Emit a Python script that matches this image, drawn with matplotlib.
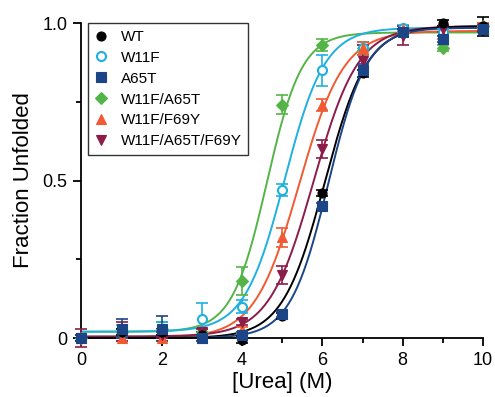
import numpy as np
import matplotlib
matplotlib.use("Agg")
import matplotlib.pyplot as plt

plt.rcParams['font.family'] = ['Liberation Sans', 'DejaVu Sans']

urea = [0, 1, 2, 3, 4, 5, 6, 7, 8, 9, 10]
names = ["WT", "W11F", "A65T", "W11F/A65T", "W11F/F69Y", "W11F/A65T/F69Y"]

wt      = [0.00, 0.02, 0.02, 0.01, -0.005, 0.07, 0.46, 0.84, 0.97, 1.00, 0.99]
w11f    = [0.00, 0.02, 0.03, 0.06, 0.10, 0.47, 0.85, 0.92, 0.985, 0.97, 0.98]
a65t    = [0.00, 0.03, 0.03, 0.00, 0.01, 0.076, 0.42, 0.85, 0.97, 0.95, 0.98]
w11f_a65t = [0.00, 0.02, 0.03, 0.02, 0.18, 0.74, 0.93, 0.92, 0.97, 0.92, 0.99]
w11f_f69y = [0.00, 0.00, 0.00, 0.00, 0.025, 0.32, 0.74, 0.92, 0.98, 0.96, 0.99]
triple  = [0.00, 0.02, 0.01, 0.02, 0.05, 0.20, 0.60, 0.88, 0.96, 0.98, 0.985]

wt_err      = [0.01, 0.01, 0.01, 0.01, 0.01, 0.01, 0.01, 0.01, 0.01, 0.01, 0.03]
w11f_err    = [0.01, 0.02, 0.02, 0.05, 0.02, 0.02, 0.05, 0.02, 0.01, 0.01, 0.01]
a65t_err    = [0.01, 0.03, 0.04, 0.01, 0.01, 0.01, 0.01, 0.02, 0.01, 0.01, 0.01]
w11f_a65t_err = [0.01, 0.01, 0.02, 0.01, 0.045, 0.03, 0.02, 0.01, 0.01, 0.01, 0.01]
w11f_f69y_err = [0.01, 0.01, 0.01, 0.01, 0.01, 0.03, 0.02, 0.02, 0.01, 0.01, 0.01]
triple_err  = [0.03, 0.03, 0.01, 0.01, 0.01, 0.03, 0.03, 0.05, 0.03, 0.01, 0.01]

# two-state fit parameters: midpoint (M), slope (1/M), lower and upper plateaus
fit_cm    = [6.06, 5.06, 6.15, 4.62, 5.42, 5.78]
fit_m     = [1.9, 2.0, 2.1, 2.3, 1.8, 1.8]
fit_low   = [0.0, 0.02, 0.0, 0.02, 0.0, 0.005]
fit_high  = [0.99, 0.985, 0.985, 0.97, 0.975, 0.99]

colors = ["#000000", "#1fb0e0", "#1c4587", "#55b447", "#f05a32", "#8c1c48"]
markers = ["o", "o", "s", "D", "^", "v"]
filled = [True, False, True, True, True, True]

series = [wt, w11f, a65t, w11f_a65t, w11f_f69y, triple]
errs = [wt_err, w11f_err, a65t_err, w11f_a65t_err, w11f_f69y_err, triple_err]

fig = plt.figure(figsize=(4.95, 3.97), dpi=100)
ax = fig.add_axes([0.1646, 0.1486, 0.8112, 0.7934])

xs = np.linspace(0, 10, 400)
order = [3, 1, 4, 5, 0, 2]
for i in order:
    c = colors[i]
    y = fit_low[i] + (fit_high[i] - fit_low[i]) / (1 + np.exp(fit_m[i] * (fit_cm[i] - xs)))
    ax.plot(xs, y, color=c, lw=1.4, clip_on=False, zorder=2)
for i in order:
    c = colors[i]
    ax.errorbar(urea, series[i], yerr=errs[i], fmt='none', ecolor=c, elinewidth=1.2,
                capsize=4, capthick=1.2, clip_on=False, zorder=3)
handles = [None] * 6
for i in order:
    c = colors[i]
    h, = ax.plot(urea, series[i], linestyle='none', marker=markers[i],
                 ms=6.5 if markers[i] != 'D' else 6,
                 markerfacecolor=c if filled[i] else 'white', markeredgecolor=c,
                 markeredgewidth=1.5 if not filled[i] else 0.8, clip_on=False, zorder=4)
    handles[i] = h

ax.set_xlim(0, 10)
ax.set_ylim(0, 1)
ax.set_xticks([0, 2, 4, 6, 8, 10])
ax.set_xticks([1, 3, 5, 7, 9], minor=True)
ax.set_yticks([0, 0.5, 1.0])
ax.set_yticklabels(["0", "0.5", "1.0"])
ax.set_yticks([0.25, 0.75], minor=True)
for s in ['top', 'right']:
    ax.spines[s].set_visible(False)
for s in ['left', 'bottom']:
    ax.spines[s].set_linewidth(1.3)
ax.tick_params(which='major', direction='out', length=6, width=1.3, labelsize=13, pad=4)
ax.tick_params(which='minor', direction='out', length=3.5, width=1.3)
ax.set_xlabel("[Urea] (M)", fontsize=16, labelpad=2)
ax.set_ylabel("Fraction Unfolded", fontsize=16, labelpad=6)

leg = ax.legend(handles, names, loc='upper left', bbox_to_anchor=(0.016, 1.0), borderaxespad=0,
                fontsize=11, frameon=True, fancybox=False, handlelength=0.8, handletextpad=0.9,
                labelspacing=0.45, borderpad=0.45)
leg.get_frame().set_edgecolor('black')
leg.get_frame().set_linewidth(1.0)
leg.set_zorder(10)

fig.savefig("out.png", dpi=100)
